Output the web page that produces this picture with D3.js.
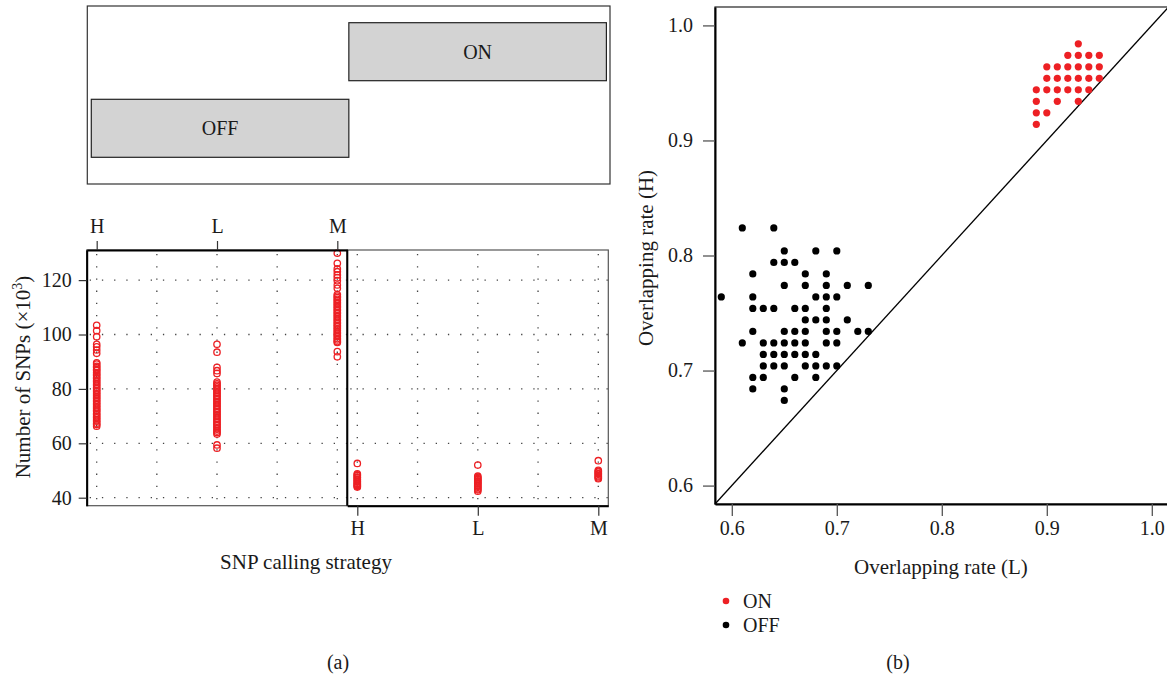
<!DOCTYPE html>
<html lang="en">
<head>
<meta charset="UTF-8">
<title>SNP calling strategy / overlapping rate</title>
<script src="https://d3js.org/d3.v7.min.js"></script>
<style>
  body { margin: 0; background: #fff; }
  text { font-family: "Liberation Serif", "Times New Roman", serif; fill: #1a1a1a; }
</style>
</head>
<body>
<div id="chart"></div>
<script>

// ---- panel (a) ----
const strategies = ["H", "L", "M"];
const conditions = ["OFF", "ON"];
const shingleRange = [[0, 1], [1, 2]];   // OFF, ON intervals of the shingle strip

// number of SNPs (x10^3) per sample
const offH = [103.4, 101.4, 99.2, 96.4, 95.5, 94.3, 93.1, 89.6, 89.1, 88.3, 87.9, 87.1, 86.8, 86.0, 85.4, 84.9, 84.2,
  83.7, 83.0, 82.5, 81.8, 81.3, 80.6, 80.1, 79.4, 78.9, 78.2, 77.7, 77.0, 76.5, 75.8, 75.3, 74.6, 74.1, 73.4, 72.9,
  72.2, 71.8, 71.0, 70.5, 69.8, 69.3, 68.6, 68.1, 67.4, 66.9, 66.3];
const offL = [96.4, 93.5, 87.9, 86.7, 85.7, 82.5, 81.9, 81.3, 80.8, 80.1, 79.6, 78.9, 78.4, 77.7, 77.2, 76.5, 76.0,
  75.3, 74.8, 74.1, 73.6, 72.9, 72.4, 71.7, 71.2, 70.5, 70.0, 69.3, 68.8, 68.1, 67.6, 66.9, 66.4, 65.7, 65.2, 64.5,
  64.0, 63.4, 59.4, 58.2];
const offM = [129.9, 126.2, 124.1, 123.1, 121.9, 120.9, 119.8, 118.2, 117.0, 114.7, 114.1, 113.6, 112.9, 112.4, 111.7,
  111.2, 110.5, 110.0, 109.3, 108.8, 108.1, 107.6, 106.9, 106.4, 105.7, 105.2, 104.5, 104.0, 103.3, 102.8, 102.1,
  101.6, 100.9, 100.4, 99.7, 99.2, 98.5, 98.0, 97.4, 97.1, 93.7, 91.8];
const onH = [52.6, 48.8, 48.4, 48.1, 47.6, 47.3, 46.8, 46.5, 46.0, 45.7, 45.2, 44.9, 44.5, 44.2, 43.9];
const onL = [52.0, 47.9, 47.5, 47.0, 46.7, 46.2, 45.9, 45.4, 45.1, 44.6, 44.2, 43.8, 43.3, 42.9, 42.4];
const onM = [53.6, 50.1, 49.7, 49.4, 48.9, 48.6, 48.1, 47.7, 47.3, 47.0];
const yTicksA = [40, 60, 80, 100, 120];

// ---- panel (b) ----  overlapping rate, strategy L (x) vs strategy H (y)
const rateOnL = [0.93,
  0.92, 0.93, 0.94, 0.95,
  0.90, 0.91, 0.92, 0.93, 0.94, 0.95,
  0.90, 0.91, 0.92, 0.93, 0.94, 0.95,
  0.89, 0.90, 0.91, 0.92, 0.93, 0.94,
  0.89, 0.91, 0.93,
  0.89, 0.90,
  0.89];
const rateOnH = [0.984,
  0.974, 0.974, 0.974, 0.974,
  0.964, 0.964, 0.964, 0.964, 0.964, 0.964,
  0.954, 0.954, 0.954, 0.954, 0.954, 0.954,
  0.944, 0.944, 0.944, 0.944, 0.944, 0.944,
  0.934, 0.934, 0.934,
  0.924, 0.924,
  0.914];
const rateOffL = [0.61, 0.64,
  0.65, 0.68, 0.70,
  0.64, 0.65, 0.66,
  0.62, 0.67, 0.69,
  0.65, 0.67, 0.69, 0.71, 0.73,
  0.59, 0.62, 0.68, 0.69, 0.70,
  0.62, 0.63, 0.64, 0.66, 0.67, 0.69,
  0.67, 0.68, 0.69, 0.71,
  0.62, 0.65, 0.66, 0.67, 0.69, 0.70, 0.72, 0.73,
  0.61, 0.63, 0.64, 0.65, 0.66, 0.67, 0.69, 0.70,
  0.63, 0.64, 0.65, 0.66, 0.67, 0.68,
  0.63, 0.64, 0.65, 0.67, 0.68, 0.69, 0.70,
  0.62, 0.63, 0.66, 0.68,
  0.62, 0.65,
  0.65];
const rateOffH = [0.824, 0.824,
  0.804, 0.804, 0.804,
  0.794, 0.794, 0.794,
  0.784, 0.784, 0.784,
  0.774, 0.774, 0.774, 0.774, 0.774,
  0.764, 0.764, 0.764, 0.764, 0.764,
  0.754, 0.754, 0.754, 0.754, 0.754, 0.754,
  0.744, 0.744, 0.744, 0.744,
  0.734, 0.734, 0.734, 0.734, 0.734, 0.734, 0.734, 0.734,
  0.724, 0.724, 0.724, 0.724, 0.724, 0.724, 0.724, 0.724,
  0.714, 0.714, 0.714, 0.714, 0.714, 0.714,
  0.704, 0.704, 0.704, 0.704, 0.704, 0.704, 0.704,
  0.694, 0.694, 0.694, 0.694,
  0.684, 0.684,
  0.674];
const rateTicks = [0.6, 0.7, 0.8, 0.9, 1.0];

const red = "#ed2024";

const svg = d3.select("#chart").append("svg")
  .attr("width", 1167)
  .attr("height", 680);

// ================= (a) shingle strip =================
const sx = d3.scaleLinear().domain([-0.0155, 2.014]).range([87.3, 610]);
const sy = d3.scalePoint().domain(conditions).range([128.3, 51.7]);

svg.append("rect")
  .attr("x", sx(-0.0155)).attr("y", 6)
  .attr("width", sx(2.014) - sx(-0.0155)).attr("height", 178)
  .attr("fill", "none").attr("stroke", "#333").attr("stroke-width", 1.2);

const shingle = svg.selectAll(".shingle")
  .data(conditions)
  .enter().append("g")
  .attr("class", "shingle");

shingle.append("rect")
  .attr("x", (d, i) => sx(shingleRange[i][0]))
  .attr("y", d => sy(d) - 29)
  .attr("width", (d, i) => sx(shingleRange[i][1]) - sx(shingleRange[i][0]))
  .attr("height", 58)
  .attr("fill", "#d3d3d3").attr("stroke", "#222").attr("stroke-width", 1.2);

shingle.append("text")
  .attr("x", (d, i) => sx((shingleRange[i][0] + shingleRange[i][1]) / 2))
  .attr("y", d => sy(d) + 7)
  .attr("text-anchor", "middle")
  .attr("font-size", 20)
  .text(d => d);

// ================= (a) strip plot panels =================
const yA = d3.scaleLinear().domain([37.06, 131.07]).range([505.7, 250]);
const panelX = [
  d3.scaleLinear().domain([0.917, 3.083]).range([86.7, 347.3]),
  d3.scaleLinear().domain([0.917, 3.083]).range([347.3, 608.3])
];
const snps = { OFF: [offH, offL, offM], ON: [onH, onL, onM] };

conditions.forEach((cond, p) => {
  const x = panelX[p];
  const [x0, x1] = x.range();
  const g = svg.append("g");

  // dotted grid
  g.selectAll(".vgrid").data([1, 1.5, 2, 2.5, 3]).enter().append("line")
    .attr("x1", d => x(d)).attr("x2", d => x(d))
    .attr("y1", yA.range()[1] + 4).attr("y2", yA.range()[0])
    .attr("stroke", "#444").attr("stroke-width", 1.3)
    .attr("stroke-dasharray", "1.3 10.9");
  g.selectAll(".hgrid").data(yTicksA).enter().append("line")
    .attr("x1", x0 + 3).attr("x2", x1)
    .attr("y1", d => yA(d)).attr("y2", d => yA(d))
    .attr("stroke", "#444").attr("stroke-width", 1.3)
    .attr("stroke-dasharray", "1.3 10.9");

  // samples
  strategies.forEach((s, i) => {
    g.selectAll(".pt" + s).data(snps[cond][i]).enter().append("circle")
      .attr("cx", x(i + 1))
      .attr("cy", d => yA(d))
      .attr("r", 3.2)
      .attr("fill", "none")
      .attr("stroke", red)
      .attr("stroke-width", 1.3);
  });

  g.append("rect")
    .attr("x", x0).attr("y", yA.range()[1])
    .attr("width", x1 - x0).attr("height", yA.range()[0] - yA.range()[1])
    .attr("fill", "none").attr("stroke", "#555").attr("stroke-width", 1.2);
});

// alternating axes, lattice style
const fmtCat = d => strategies[d - 1];
const topAxis = svg.append("g")
  .attr("transform", `translate(0,${yA.range()[1]})`)
  .call(d3.axisTop(panelX[0]).tickValues([1, 2, 3]).tickFormat(fmtCat).tickSize(9).tickPadding(8).tickSizeOuter(0));
const bottomAxis = svg.append("g")
  .attr("transform", `translate(0,${yA.range()[0]})`)
  .call(d3.axisBottom(panelX[1]).tickValues([1, 2, 3]).tickFormat(fmtCat).tickSize(10).tickPadding(5).tickSizeOuter(0));
const leftAxis = svg.append("g")
  .attr("transform", `translate(${panelX[0].range()[0]},0)`)
  .call(d3.axisLeft(yA).tickValues(yTicksA).tickSize(8).tickPadding(7).tickSizeOuter(0));

[topAxis, bottomAxis, leftAxis].forEach(a => {
  a.select(".domain").attr("stroke", "#000").attr("stroke-width", 2);
  a.selectAll(".tick line").attr("stroke", "#333").attr("stroke-width", 1.2);
  a.selectAll(".tick text").attr("font-size", 20).attr("fill", "#1a1a1a")
    .style("font-family", "Liberation Serif, serif");
});

// divider between the two panels
svg.append("line")
  .attr("x1", panelX[1].range()[0]).attr("x2", panelX[1].range()[0])
  .attr("y1", yA.range()[1]).attr("y2", yA.range()[0])
  .attr("stroke", "#000").attr("stroke-width", 2);

const yTitle = svg.append("text")
  .attr("transform", "translate(30,377) rotate(-90)")
  .attr("text-anchor", "middle")
  .attr("font-size", 21);
yTitle.append("tspan").text("Number of SNPs (\u00d710");
yTitle.append("tspan").attr("font-size", 14).attr("dy", -8).text("3");
yTitle.append("tspan").attr("dy", 8).text(")");

svg.append("text")
  .attr("x", 306).attr("y", 569)
  .attr("text-anchor", "middle").attr("font-size", 21)
  .text("SNP calling strategy");

svg.append("text")
  .attr("x", 338).attr("y", 669)
  .attr("text-anchor", "middle").attr("font-size", 20)
  .text("(a)");

// ================= (b) overlapping rate scatter =================
const xB = d3.scaleLinear().domain([0.584, 1.016]).range([715, 1168.6]);
const yB = d3.scaleLinear().domain([0.584, 1.016]).range([504, 7]);

svg.append("rect")
  .attr("x", xB(0.584)).attr("y", yB(1.016))
  .attr("width", xB(1.016) - xB(0.584)).attr("height", yB(0.584) - yB(1.016))
  .attr("fill", "none").attr("stroke", "#222").attr("stroke-width", 1.2);

// y = x reference line
svg.append("line")
  .attr("x1", xB(0.584)).attr("y1", yB(0.584))
  .attr("x2", xB(1.016)).attr("y2", yB(1.016))
  .attr("stroke", "#000").attr("stroke-width", 1.3);

const offPts = rateOffL.map((v, i) => [v, rateOffH[i]]);
const onPts = rateOnL.map((v, i) => [v, rateOnH[i]]);

svg.append("g").selectAll("circle").data(offPts).enter().append("circle")
  .attr("cx", d => xB(d[0])).attr("cy", d => yB(d[1]))
  .attr("r", 3.6).attr("fill", "#000");
svg.append("g").selectAll("circle").data(onPts).enter().append("circle")
  .attr("cx", d => xB(d[0])).attr("cy", d => yB(d[1]))
  .attr("r", 3.6).attr("fill", red);

const xAxisB = svg.append("g")
  .attr("transform", `translate(0,${yB(0.584)})`)
  .call(d3.axisBottom(xB).tickValues(rateTicks).tickFormat(d3.format(".1f")).tickSize(12).tickPadding(5).tickSizeOuter(0));
const yAxisB = svg.append("g")
  .attr("transform", `translate(${xB(0.584)},0)`)
  .call(d3.axisLeft(yB).tickValues(rateTicks).tickFormat(d3.format(".1f")).tickSize(12).tickPadding(10).tickSizeOuter(0));

[xAxisB, yAxisB].forEach(a => {
  a.select(".domain").attr("stroke", "#000").attr("stroke-width", 2);
  a.selectAll(".tick line").attr("stroke", "#555").attr("stroke-width", 1.3);
  a.selectAll(".tick text").attr("font-size", 20).attr("fill", "#1a1a1a")
    .style("font-family", "Liberation Serif, serif");
});

svg.append("text")
  .attr("transform", "translate(653,258) rotate(-90)")
  .attr("text-anchor", "middle").attr("font-size", 21)
  .text("Overlapping rate (H)");

svg.append("text")
  .attr("x", 941).attr("y", 574)
  .attr("text-anchor", "middle").attr("font-size", 21)
  .text("Overlapping rate (L)");

// legend
const legendColors = { ON: red, OFF: "#000" };
const legend = svg.selectAll(".legend")
  .data(["ON", "OFF"])
  .enter().append("g")
  .attr("class", "legend")
  .attr("transform", (d, i) => `translate(726,${601 + i * 24})`);
legend.append("circle").attr("r", 3.3).attr("fill", d => legendColors[d]);
legend.append("text")
  .attr("x", 17).attr("y", 7)
  .attr("font-size", 20)
  .text(d => d);

svg.append("text")
  .attr("x", 898).attr("y", 669)
  .attr("text-anchor", "middle").attr("font-size", 20)
  .text("(b)");

</script>
</body>
</html>
